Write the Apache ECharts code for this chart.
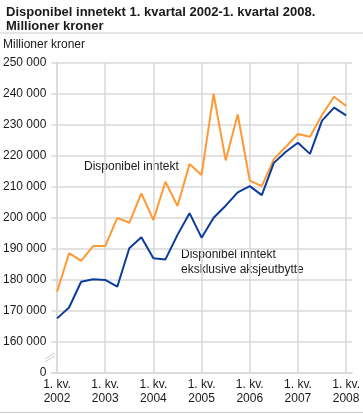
<!DOCTYPE html>
<html>
<head>
<meta charset="utf-8">
<script src="https://cdn.jsdelivr.net/npm/echarts@6/dist/echarts.min.js"></script>
<style>
html,body{margin:0;padding:0;background:#fff;}
#c{width:363px;height:414px;}
</style>
</head>
<body>
<div id="c"></div>
<script>
// Quarters: 1. kv. 2002 ... 1. kv. 2008 (25 quarters)
var quarters = ['2002K1','2002K2','2002K3','2002K4','2003K1','2003K2','2003K3','2003K4','2004K1','2004K2','2004K3','2004K4','2005K1','2005K2','2005K3','2005K4','2006K1','2006K2','2006K3','2006K4','2007K1','2007K2','2007K3','2007K4','2008K1'];
var disponibel = [176100,188500,186000,190800,190800,199900,198300,207800,199200,211500,203700,217200,213700,239800,218400,233200,211900,210100,218800,222800,226900,226000,233000,238900,235900];
var eksklAksjeutbytte = [167500,171000,179300,180100,179900,177700,190100,193600,186900,186500,194400,201400,193500,199900,203800,208100,210100,207200,217600,221200,224100,220500,231200,235400,232900];
var yearTickIndex = [0,4,8,12,16,20,24];
var yearLabels = ['2002','2003','2004','2005','2006','2007','2008'];
var yTickLabels = ['0','160 000','170 000','180 000','190 000','200 000','210 000','220 000','230 000','240 000','250 000'];

function pairs(arr){ return arr.map(function(v,i){ return [i,v]; }); }

var chart = echarts.init(document.getElementById('c'), null, {renderer:'canvas'});
var grey = '#d9d9d9';
var txt = '#1a1a1a';
var font = 'Liberation Sans, Arial, sans-serif';

chart.setOption({
  animation:false,
  textStyle:{fontFamily:font},
  title:{
    text:'Disponibel innetekt 1. kvartal 2002-1. kvartal 2008.\nMillioner kroner',
    left:1, top:1,
    textStyle:{fontSize:13, fontWeight:'bold', color:txt, lineHeight:13.5, fontFamily:font}
  },
  grid:{left:51, right:8, top:62.3, bottom:41.3, containLabel:false},
  xAxis:{
    type:'value', min:-0.47, max:24.5,
    axisLine:{show:true, lineStyle:{color:grey, width:1.5}},
    axisTick:{show:false, customValues:yearTickIndex},
    splitLine:{show:true, lineStyle:{color:grey, width:1.5}},
    axisLabel:{
      customValues:yearTickIndex,
      margin:5, fontSize:12, color:txt, lineHeight:14, fontFamily:font,
      formatter:function(v){ var k = yearTickIndex.indexOf(Math.round(v)); return '1. kv.\n' + yearLabels[k]; }
    }
  },
  yAxis:{
    type:'value', min:150000, max:250000, interval:10000,
    axisLine:{show:true, lineStyle:{color:grey, width:1.5}},
    axisTick:{show:false},
    splitLine:{show:true, lineStyle:{color:grey, width:1.5}},
    axisLabel:{
      margin:5, fontSize:12, color:txt, fontFamily:font,
      formatter:function(v){ return yTickLabels[Math.round((v-150000)/10000)]; }
    }
  },
  series:[
    {type:'line', data:pairs(disponibel), symbol:'none', lineStyle:{color:'#ff9933', width:2}, itemStyle:{color:'#ff9933'}, z:3},
    {type:'line', data:pairs(eksklAksjeutbytte), symbol:'none', lineStyle:{color:'#0b3c9b', width:2}, itemStyle:{color:'#0b3c9b'}, z:4}
  ],
  graphic:[
    {type:'line', shape:{x1:0,y1:33,x2:363,y2:33}, style:{stroke:'#cccccc', lineWidth:1}},
    {type:'line', shape:{x1:0,y1:412.5,x2:363,y2:412.5}, style:{stroke:'#cccccc', lineWidth:1}},
    {type:'text', left:3, top:39, style:{text:'Millioner kroner', font:'12px '+font, fill:txt}},
    {type:'text', left:84, top:161, style:{text:'Disponibel inntekt', font:'12px '+font, fill:txt}},
    {type:'text', left:181, top:247, style:{text:'Disponibel inntekt\neksklusive aksjeutbytte', font:'12px '+font, fill:txt, lineHeight:15}},
    {type:'polygon', shape:{points:[[45,359],[55,353],[55,356],[45,362]]}, style:{fill:'#ffffff'}, z:100},
    {type:'line', shape:{x1:45,y1:359,x2:55,y2:353}, style:{stroke:'#cccccc', lineWidth:1}, z:101},
    {type:'line', shape:{x1:45,y1:362,x2:55,y2:356}, style:{stroke:'#cccccc', lineWidth:1}, z:101}
  ]
});
</script>
</body>
</html>
